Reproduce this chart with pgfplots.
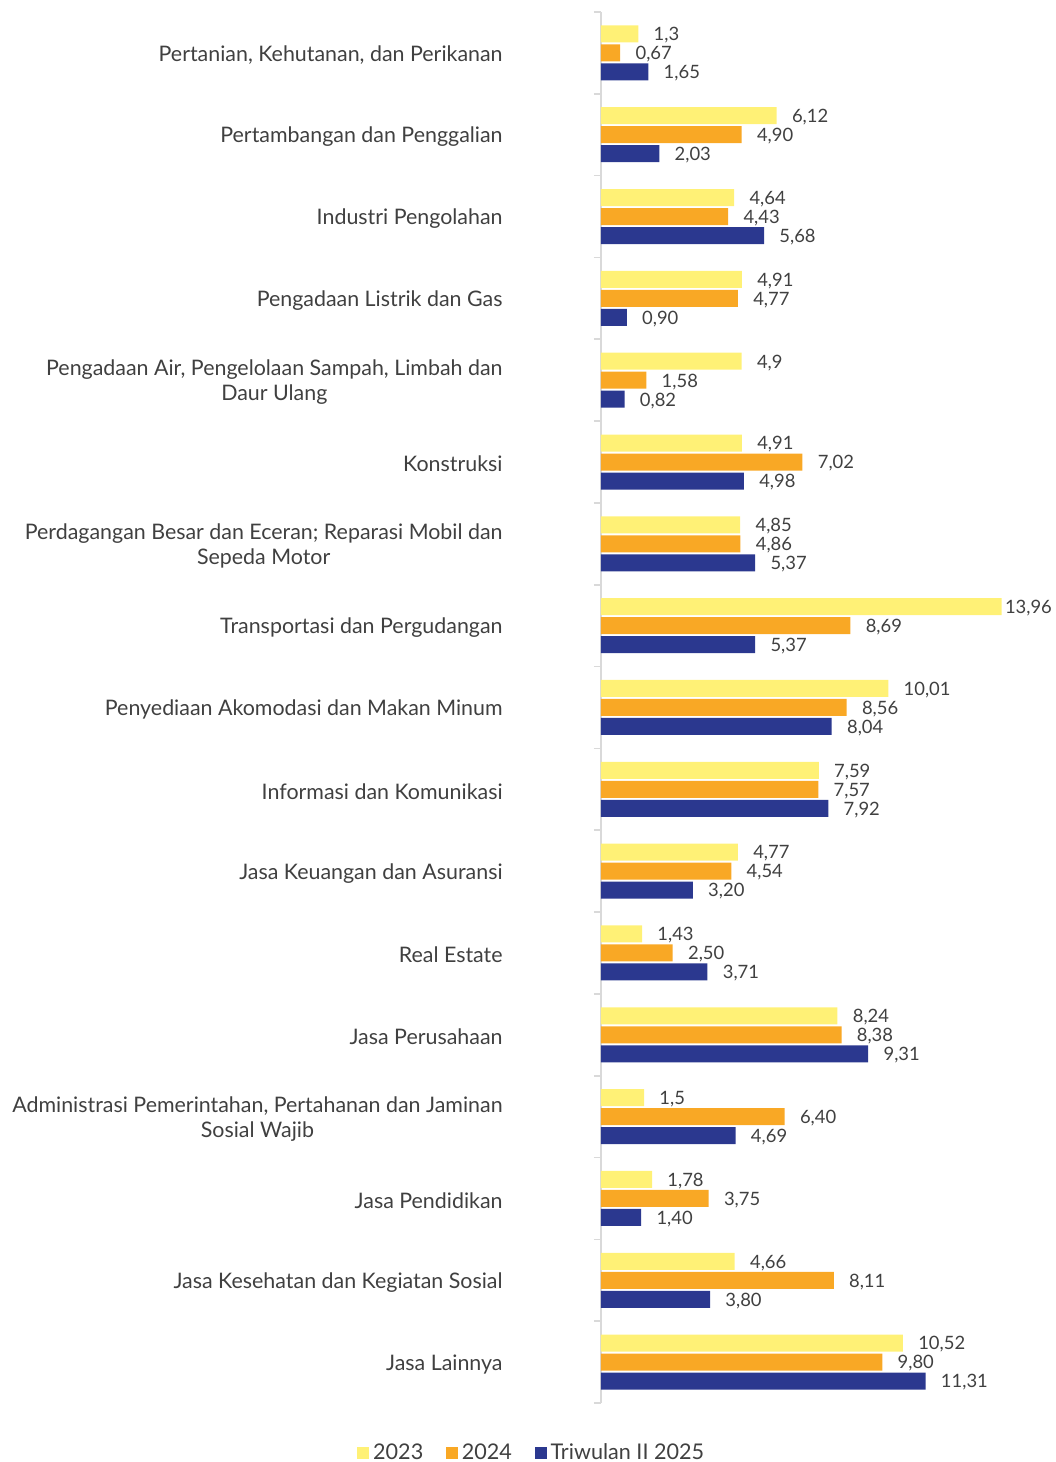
\documentclass[border=0pt]{standalone}
\usepackage{pgfplots}
\pgfplotsset{compat=1.18}
\usepackage{fontspec}
\setmainfont{Lato}
\definecolor{cy}{HTML}{FFF176}
\definecolor{co}{HTML}{F9A825}
\definecolor{cn}{HTML}{2B388F}
\definecolor{txt}{HTML}{404040}
\definecolor{axgray}{HTML}{D9D9D9}
\begin{document}
\begin{tikzpicture}
\begin{axis}[
  name=ax,
  at={(0,0)}, anchor=south west,
  scale only axis,
  width=200.9pt, height=695.5pt,
  xmin=0, xmax=14,
  ymin=-0.5, ymax=16.5,
  xbar, bar width=8.5pt,
  axis x line=none,
  axis y line*=left,
  y axis line style={draw=axgray, line width=0.8pt},
  ytick={0,...,16},
  yticklabels={
    {Jasa Lainnya},
    {Jasa Kesehatan dan Kegiatan Sosial},
    {Jasa Pendidikan},
    {Administrasi Pemerintahan, Pertahanan dan Jaminan\\Sosial Wajib},
    {Jasa Perusahaan},
    {Real Estate},
    {Jasa Keuangan dan Asuransi},
    {Informasi dan Komunikasi},
    {Penyediaan Akomodasi dan Makan Minum},
    {Transportasi dan Pergudangan},
    {Perdagangan Besar dan Eceran; Reparasi Mobil dan\\Sepeda Motor},
    {Konstruksi},
    {Pengadaan Air, Pengelolaan Sampah, Limbah dan\\Daur Ulang},
    {Pengadaan Listrik dan Gas},
    {Industri Pengolahan},
    {Pertambangan dan Penggalian},
    {Pertanian, Kehutanan, dan Perikanan}},
  major tick length=0pt,
  minor ytick={-0.5,0.5,...,16.5},
  minor tick length=3.5pt,
  tick align=outside,
  minor tick style={draw=axgray, line width=0.8pt},
  yticklabel style={font=\fontsize{10.7}{12.5}\selectfont, text=txt, align=center, anchor=east, inner sep=0pt, xshift=-49pt, yshift=-1pt},
  point meta=explicit symbolic,
  nodes near coords,
  every node near coord/.append style={font=\fontsize{9.2}{11}\selectfont, text=txt, anchor=west, inner sep=0pt, xshift=7.5pt, yshift=-0.7pt},
  clip=false,
  legend columns=3,
  legend style={draw=none, fill=none, at={(-0.170,-0.036)}, anchor=center, font=\fontsize{10.8}{12}\selectfont, text=txt, inner sep=0pt,
    /tikz/every even column/.append style={column sep=9.3pt}},
  legend cell align=left,
  legend image code/.code={\fill[#1,draw=none] (0pt,-3pt) rectangle (6pt,3pt);},
]
\addplot[fill=cy, draw=none, bar shift=9.5pt] coordinates {
(1.3,16) [1,3]
(6.12,15) [6,12]
(4.64,14) [4,64]
(4.91,13) [4,91]
(4.9,12) [4,9]
(4.91,11) [4,91]
(4.85,10) [4,85]
(13.96,9) [\hspace*{-6pt}13,96]
(10.01,8) [10,01]
(7.59,7) [7,59]
(4.77,6) [4,77]
(1.43,5) [1,43]
(8.24,4) [8,24]
(1.5,3) [1,5]
(1.78,2) [1,78]
(4.66,1) [4,66]
(10.52,0) [10,52]
};
\addplot[fill=co, draw=none, bar shift=0pt] coordinates {
(0.67,16) [0,67]
(4.90,15) [4,90]
(4.43,14) [4,43]
(4.77,13) [4,77]
(1.58,12) [1,58]
(7.02,11) [7,02]
(4.86,10) [4,86]
(8.69,9) [8,69]
(8.56,8) [8,56]
(7.57,7) [7,57]
(4.54,6) [4,54]
(2.50,5) [2,50]
(8.38,4) [8,38]
(6.40,3) [6,40]
(3.75,2) [3,75]
(8.11,1) [8,11]
(9.80,0) [9,80]
};
\addplot[fill=cn, draw=none, bar shift=-9.5pt] coordinates {
(1.65,16) [1,65]
(2.03,15) [2,03]
(5.68,14) [5,68]
(0.90,13) [0,90]
(0.82,12) [0,82]
(4.98,11) [4,98]
(5.37,10) [5,37]
(5.37,9) [5,37]
(8.04,8) [8,04]
(7.92,7) [7,92]
(3.20,6) [3,20]
(3.71,5) [3,71]
(9.31,4) [9,31]
(4.69,3) [4,69]
(1.40,2) [1,40]
(3.80,1) [3,80]
(11.31,0) [11,31]
};
\legend{2023,2024,Triwulan II 2025}
\end{axis}
\pgfresetboundingbox
\path[use as bounding box] ([shift={(-300.5pt,-29.5pt)}]ax.south west) rectangle ([shift={(26.1pt,6pt)}]ax.north east);
\end{tikzpicture}
\end{document}
